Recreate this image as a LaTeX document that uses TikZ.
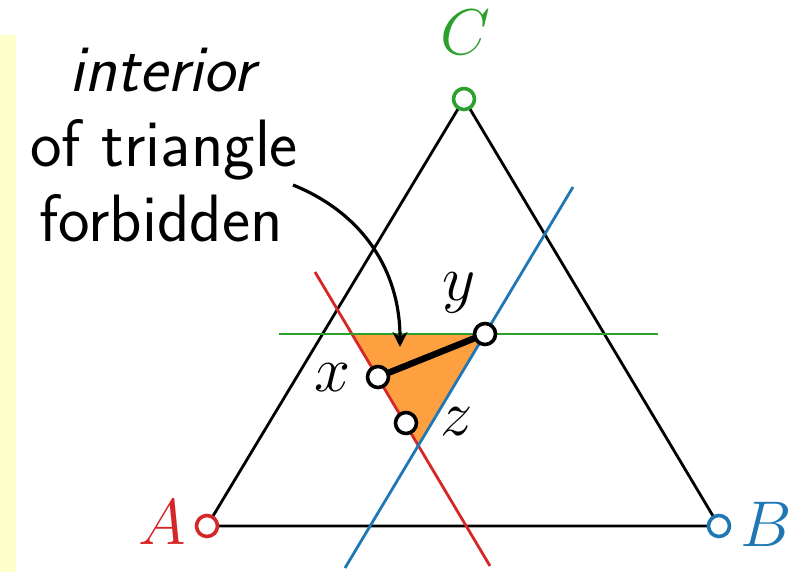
\documentclass[tikz,border=0pt]{standalone}
\usepackage{fontspec}
\usetikzlibrary{intersections,arrows.meta}
\definecolor{myred}{HTML}{D62728}
\definecolor{myblue}{HTML}{1F77B4}
\definecolor{mygreen}{HTML}{2CA02C}
\definecolor{myorange}{HTML}{FFA040}
\definecolor{myyellow}{HTML}{FFFFCC}
\tikzset{
  pt/.style={circle,draw,line width=3.6pt,fill=white,inner sep=0pt,minimum size=21pt},
  lbl/.style={font=\Huge,inner sep=0pt,scale=2.6},
  side/.style={line width=2.8pt,line cap=round},
  cline/.style={line width=2.8pt},
  txt/.style={font=\fontsize{67}{75}\selectfont\sffamily,anchor=base,inner sep=0pt}
}
\begin{document}
\begin{tikzpicture}[x=1pt,y=-1pt]
\useasboundingbox (0,0) rectangle (806,572);
\fill[myyellow] (0,35) rectangle (16,572);
% triangle
\coordinate (A) at (207,526);
\coordinate (B) at (719,526);
\coordinate (C) at (464,99);
% colored lines
\coordinate (r1) at (315,272); \coordinate (r2) at (490,566);
\coordinate (b1) at (573,187); \coordinate (b2) at (345,568);
\coordinate (g1) at (279,334); \coordinate (g2) at (658,334);
\path[name path=red] (r1) -- (r2);
\path[name path=blue] (b1) -- (b2);
\path[name path=green] (g1) -- (g2);
\path[name intersections={of=red and green,by=rg}];
\path[name intersections={of=blue and green,by=bg}];
\path[name intersections={of=red and blue,by=rb}];
\fill[myorange] (rg) -- (bg) -- (rb) -- cycle;
\draw[side] (A) -- (B) -- (C) -- cycle;
\draw[cline,myred] (r1) -- (r2);
\draw[cline,myblue] (b1) -- (b2);
\draw[cline,mygreen] (g1) -- (g2);
% text
\node[txt] (t1) at (162,92) {\itshape interior};
\node[txt] (t2) at (164,167) {of triangle};
\node[txt] (t3) at (161,242) {forbidden};
\coordinate (as) at (293,185);
\coordinate (ae) at (400,347);
\draw[line width=3.2pt,-{Stealth[length=15pt,width=15pt]}] (as) to[out=-22,in=90] (ae);
% segment
\coordinate (px) at (378,377);
\coordinate (py) at (bg);
\draw[line width=6.5pt] (px) -- (py);
\node[pt] (nx) at (px) {};
\node[pt] (ny) at (py) {};
\node[pt] (nz) at (406,423) {};
\node[pt,draw=myred] (nA) at (A) {};
\node[pt,draw=myblue] (nB) at (B) {};
\node[pt,draw=mygreen] (nC) at (C) {};
% labels
\node[lbl,text=myred] (lA) at (162,522) {$A$};
\node[lbl,text=myblue] (lB) at (766,524) {$B$};
\node[lbl,text=mygreen] (lC) at (465,32) {$C$};
\node[lbl] (lx) at (332,378) {$x$};
\node[lbl] (ly) at (459,293) {$y$};
\node[lbl] (lz) at (457,422) {$z$};
\end{tikzpicture}
\end{document}
